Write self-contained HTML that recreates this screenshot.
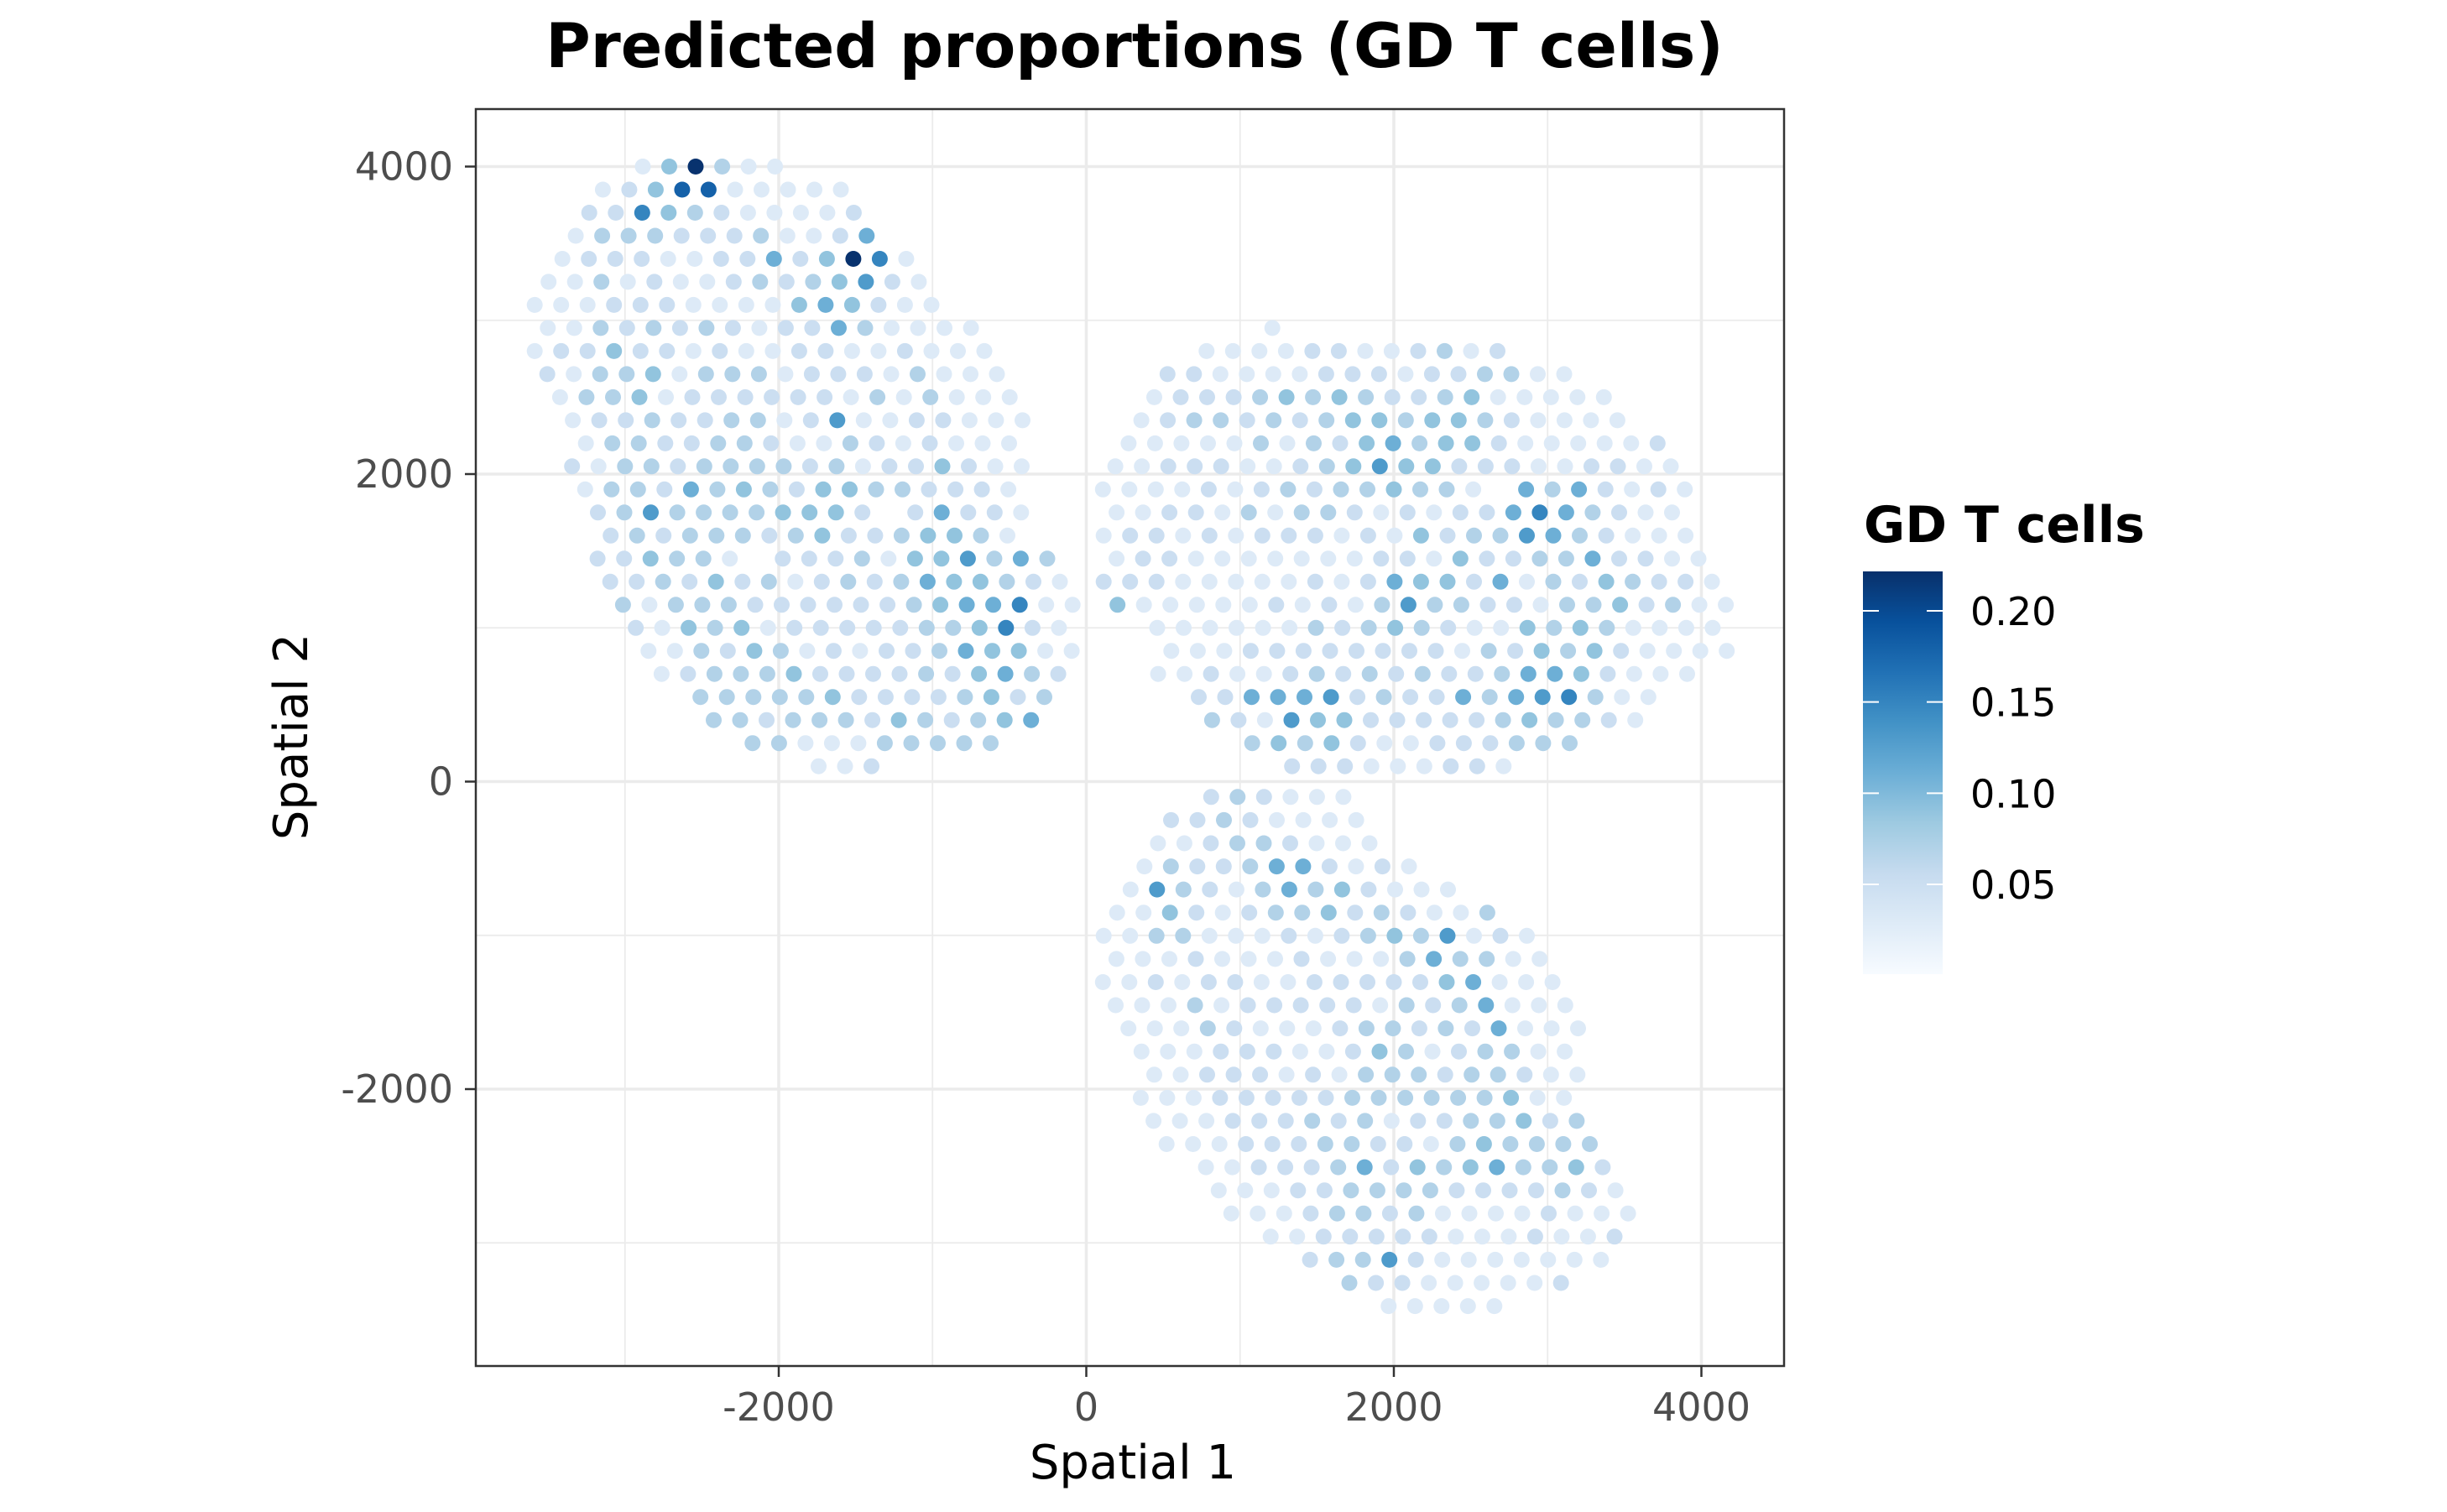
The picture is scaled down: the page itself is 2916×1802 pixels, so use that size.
<!DOCTYPE html>
<html><head><meta charset="utf-8"><style>
html,body{margin:0;padding:0;background:#fff;}
svg{display:block;}
text{font-family:"DejaVu Sans","Liberation Sans",sans-serif;}
</style></head><body>
<svg id="chart" width="2916" height="1802" viewBox="0 0 2916 1802" xmlns="http://www.w3.org/2000/svg">
<rect x="0" y="0" width="2916" height="1802" fill="#fff"/>
<text x="1352" y="80" text-anchor="middle" font-size="73" font-weight="bold" fill="#000">Predicted proportions (GD T cells)</text>
<g id="grid"></g>
<g id="spots"></g>
<rect x="567" y="130" width="1559" height="1498" fill="none" stroke="#333" stroke-width="2.5"/>
<g id="axes"></g>
<text x="1350" y="1762" text-anchor="middle" font-size="56" fill="#000">Spatial 1</text>
<text transform="translate(366,878) rotate(-90)" text-anchor="middle" font-size="56" fill="#000">Spatial 2</text>
<g id="legend">
<text x="2221" y="646" font-size="60" font-weight="bold" fill="#000">GD T cells</text>
<defs><linearGradient id="bluesGrad" x1="0" y1="1" x2="0" y2="0">
<stop offset="0" stop-color="#F7FBFF"/><stop offset="0.125" stop-color="#DEEBF7"/><stop offset="0.25" stop-color="#C6DBEF"/><stop offset="0.375" stop-color="#9ECAE1"/><stop offset="0.5" stop-color="#6BAED6"/><stop offset="0.625" stop-color="#4292C6"/><stop offset="0.75" stop-color="#2171B5"/><stop offset="0.875" stop-color="#08519C"/><stop offset="1" stop-color="#08306B"/>
</linearGradient></defs>
<rect x="2220" y="681" width="95" height="480" fill="url(#bluesGrad)"/>
<g id="cbticks"></g>
</g>
</svg>
<script>
// ---- data ----
const levelValues = [0.005,0.03,0.05,0.07,0.09,0.11,0.13,0.15,0.18,0.22];
const xTicks = [-2000,0,2000,4000];
const yTicks = [-2000,0,2000,4000];
const xMinor = [-3000,-1000,1000,3000];
const yMinor = [-3000,-1000,1000,3000];
const legendTicks = [0.05,0.10,0.15,0.20];
const legendLabels = ["0.05","0.10","0.15","0.20"];

const leftTopY = 4000;
const leftRowStep = 150;
const leftStartX = [-2884,-3144,-3232,-3320,-3407,-3497,-3587,-3502,-3587,-3505,-3422,-3339,-3254,-3344,-3259,-3176,-3093,-3178,-3096,-3013,-2930,-2847,-2762,-2509,-2423,-2170,-1741];
const leftValues = ["149311","1248811111","22743211112","133322231125","12221122524971","113121123234621","1112221111454211","11323232122531111","122422121122112111","213341333122213111","133412222221313111","122322331261122111","13322332113212111","213323333231224211","13325343244332221","23633334442_25221","2323332342234431","224331_22231446353","223242312323544321","313332222223455711","21434122222334721","11324312122354411","1233342222324532","33333422223423","3323332432345","3311133333","112"];

const rightTopY = 2950;
const rightRowStep = 150;
const rightStartX = [1210,782,528,442,358,275,189,108,197,113,197,113,203,461,553,467,731,818,1079,1338];
const rightValues = ["1","111122112312","2211112221223311","122234343223411111","1233232344344321111","111113132453442111112","1122211234644222112211","111121232334331_5352121","1122131332121225753211","12212122212142336532111","12211111112214223352211","222111112125442513243221","411111212136332213342311","1111113234321143431111","1112222222213243421111","112112323232235542111","225556232253567311","32164422222343321","3434211222333","222111221"];

const bottomTopY = -100;
const bottomRowStep = 150.5;
const bottomStartX = [812,551,466,378,288,200,113,196,108,191,274,359,442,354,437,522,778,861,943,1199,1455,1711,1966];
const bottomValues = ["232111","22321111","112332111","13223552121","1632135342111","114212334232113","11331112123436121","11121112111353311","112122112222245111","111312222213235111","111321112332325111","11122211243123311","11222121333233211","11122222333333411","11122232312233423","11122233221343333","1122235243453342","1112233332222321","1112332311112111","11222221112112","233621111111","322111112","11111"];

const spotSpacing = 172;
// ---- scales ----
const NS="http://www.w3.org/2000/svg";
function sx(v){return 1294.5+v*0.18325;}
function sy(v){return 931.5-v*0.18325;}
const cbMin=0.0008, cbMax=0.2216;
function cbY(v){return 1161-(v-cbMin)/(cbMax-cbMin)*480;}
const stops=["#F7FBFF","#DEEBF7","#C6DBEF","#9ECAE1","#6BAED6","#4292C6","#2171B5","#08519C","#08306B"];
function hex(c){return [1,3,5].map(i=>parseInt(c.substr(i,2),16));}
function color(v){
  let t=(v-cbMin)/(cbMax-cbMin); t=Math.max(0,Math.min(1,t));
  const p=t*(stops.length-1); const i=Math.min(Math.floor(p),stops.length-2); const f=p-i;
  const a=hex(stops[i]), b=hex(stops[i+1]);
  return "rgb("+a.map((x,k)=>Math.round(x+(b[k]-x)*f)).join(",")+")";
}
function mk(tag,attrs,parent){const e=document.createElementNS(NS,tag);for(const k in attrs)e.setAttribute(k,attrs[k]);parent.appendChild(e);return e;}

// grid
const grid=document.getElementById('grid');
xMinor.forEach(v=>{const l=mk('line',{x1:sx(v),x2:sx(v),y1:130,y2:1628,stroke:'#ebebeb','stroke-width':1.8},grid);

});
yMinor.forEach(v=>{const l=mk('line',{x1:567,x2:2126,y1:sy(v),y2:sy(v),stroke:'#ebebeb','stroke-width':1.8},grid);

});
xTicks.forEach(v=>{const l=mk('line',{x1:sx(v),x2:sx(v),y1:130,y2:1628,stroke:'#ebebeb','stroke-width':3.6},grid);

});
yTicks.forEach(v=>{const l=mk('line',{x1:567,x2:2126,y1:sy(v),y2:sy(v),stroke:'#ebebeb','stroke-width':3.6},grid);

});

// spots
const spots=document.getElementById('spots');
function drawBlob(topY,step,starts,vals,name){
  vals.forEach((row,r)=>{
    const y=topY-r*step;
    for(let i=0;i<row.length;i++){
      const ch=row[i]; if(ch==='_') continue;
      const v=levelValues[+ch];
      const x=starts[r]+i*spotSpacing;
      const c=mk('circle',{cx:sx(x).toFixed(1),cy:sy(y).toFixed(1),r:9.5,fill:color(v)},spots);
      
      
    }
  });
}
drawBlob(leftTopY,leftRowStep,leftStartX,leftValues,'left-section');
drawBlob(rightTopY,rightRowStep,rightStartX,rightValues,'right-section');
drawBlob(bottomTopY,bottomRowStep,bottomStartX,bottomValues,'bottom-section');

// axes
const axes=document.getElementById('axes');
xTicks.forEach(v=>{
  const t=mk('line',{x1:sx(v),x2:sx(v),y1:1628,y2:1641,stroke:'#333','stroke-width':2.5},axes);
  
  
  const l=mk('text',{x:sx(v),y:1693,'text-anchor':'middle','font-size':46,fill:'#4d4d4d'},axes);
  l.textContent=String(v);
  
  
});
yTicks.forEach(v=>{
  const t=mk('line',{x1:554,x2:567,y1:sy(v),y2:sy(v),stroke:'#333','stroke-width':2.5},axes);
  
  
  const l=mk('text',{x:540,y:sy(v)+16,'text-anchor':'end','font-size':46,fill:'#4d4d4d'},axes);
  l.textContent=String(v);
  
  
});

// legend ticks
const cbt=document.getElementById('cbticks');
legendTicks.forEach((v,i)=>{
  const y=cbY(v);
  const a=mk('line',{x1:2220,x2:2239,y1:y,y2:y,stroke:'#fff','stroke-width':2},cbt);
  
  
  const b=mk('line',{x1:2296,x2:2315,y1:y,y2:y,stroke:'#fff','stroke-width':2},cbt);
  
  
  const l=mk('text',{x:2348,y:y+17,'font-size':46,fill:'#000'},cbt);
  l.textContent=legendLabels[i];
  
  
});
</script>
</body></html>
